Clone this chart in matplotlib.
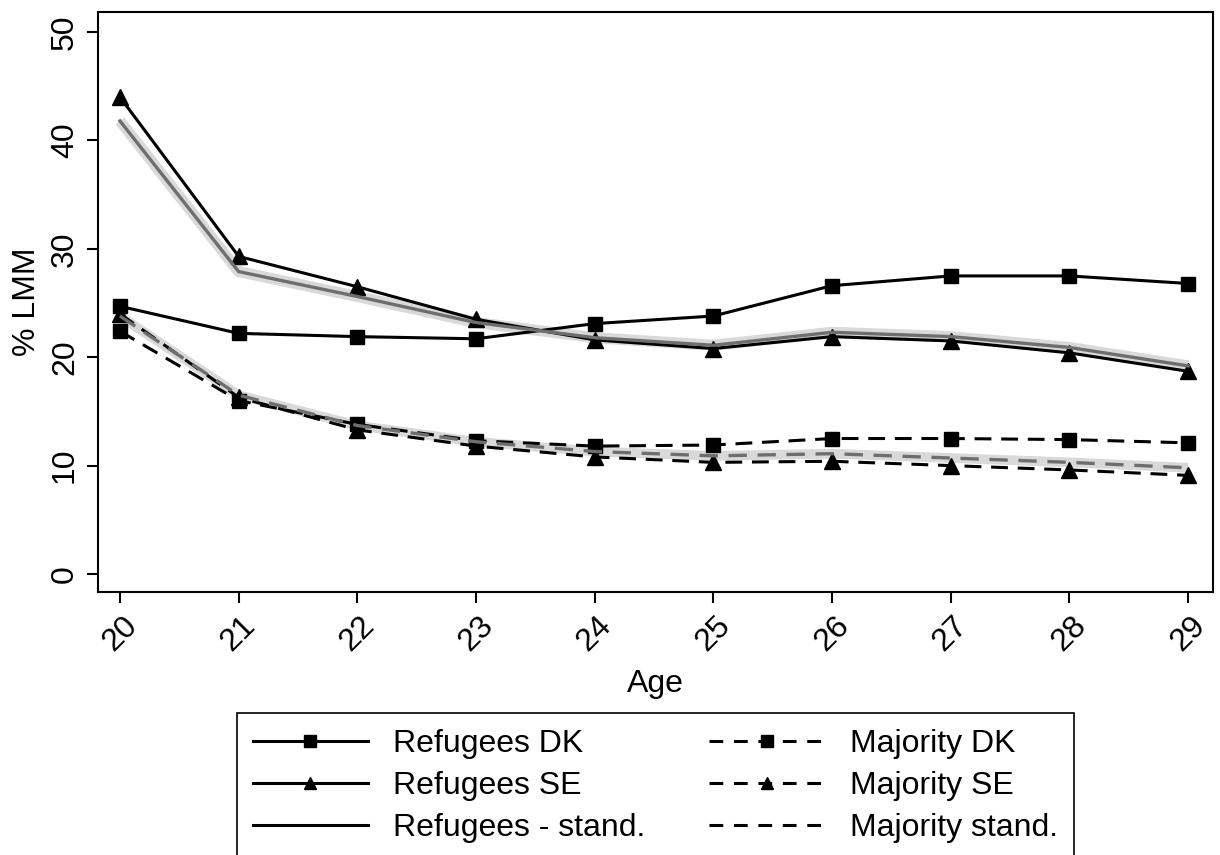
import numpy as np
import matplotlib.pyplot as plt
from matplotlib.lines import Line2D

plt.rcParams['font.family'] = ['Liberation Sans', 'DejaVu Sans']

ages = [20, 21, 22, 23, 24, 25, 26, 27, 28, 29]

ref_dk = [24.7, 22.2, 21.9, 21.7, 23.1, 23.8, 26.6, 27.5, 27.5, 26.8]
ref_se = [44.0, 29.3, 26.5, 23.5, 21.6, 20.8, 21.9, 21.5, 20.4, 18.7]
ref_stand = [41.8, 27.9, 25.6, 23.2, 21.8, 21.1, 22.3, 21.9, 20.9, 19.2]

maj_dk = [22.4, 16.0, 13.8, 12.3, 11.8, 11.9, 12.5, 12.5, 12.4, 12.1]
maj_se = [24.0, 16.3, 13.3, 11.8, 10.8, 10.3, 10.4, 10.0, 9.6, 9.1]
maj_stand = [23.8, 16.5, 13.7, 12.2, 11.3, 10.9, 11.1, 10.7, 10.3, 9.8]

y_ticks = [0, 10, 20, 30, 40, 50]

fig = plt.figure(figsize=(12.2, 8.55), dpi=100)
ax = fig.add_axes([0.0803, 0.3076, 0.914, 0.6784])

lw = 2.2
ms = 10
dash = (0, (5.5, 3.2))

# light band under the standardised lines
ax.plot(ages, ref_stand, color='#d9d9d9', lw=8, solid_capstyle='butt', zorder=1)
ax.plot(ages, maj_stand, color='#d9d9d9', lw=7, solid_capstyle='butt', zorder=1)

ax.plot(ages, ref_dk, color='black', lw=lw, marker='s', ms=ms, zorder=3)
ax.plot(ages, ref_se, color='black', lw=lw, marker='^', ms=ms + 1, zorder=3)
ax.plot(ages, maj_dk, color='black', lw=lw, ls=dash, marker='s', ms=ms, zorder=3)
ax.plot(ages, maj_se, color='black', lw=lw, ls=dash, marker='^', ms=ms + 1, zorder=3)

ax.plot(ages, ref_stand, color='#6e6e6e', lw=2.4, zorder=4)
ax.plot(ages, maj_stand, color='#6e6e6e', lw=2.4, ls=dash, zorder=4)

ax.set_xlim(19.815, 29.21)
ax.set_ylim(-1.66, 51.85)
ax.set_xticks(ages)
ax.set_yticks(y_ticks)
ax.tick_params(axis='both', direction='out', length=8, width=1.5, labelsize=23)
ax.tick_params(axis='x', labelrotation=45, pad=5)
ax.tick_params(axis='y', labelrotation=90, pad=5)
for lab in ax.get_yticklabels():
    lab.set_va('center')
for sp in ax.spines.values():
    sp.set_linewidth(1.5)

ax.set_xlabel('Age', fontsize=23, labelpad=9)
ax.set_ylabel('% LMM', fontsize=23, labelpad=6)

leg_dash = (0, (4.5, 3.5))
handles = [
    Line2D([], [], color='black', lw=lw, marker='s', ms=8),
    Line2D([], [], color='black', lw=lw, marker='^', ms=9),
    Line2D([], [], color='black', lw=lw),
    Line2D([], [], color='black', lw=lw, ls=leg_dash, marker='s', ms=8),
    Line2D([], [], color='black', lw=lw, ls=leg_dash, marker='^', ms=9),
    Line2D([], [], color='black', lw=lw, ls=leg_dash),
]
labels = ['Refugees DK', 'Refugees SE', 'Refugees - stand.',
          'Majority DK', 'Majority SE', 'Majority stand.']
leg = fig.legend(handles, labels, ncol=2, loc='upper center',
                 bbox_to_anchor=(0.537, 0.166), fontsize=23,
                 handlelength=3.6, columnspacing=2.0, labelspacing=0.38,
                 fancybox=False, edgecolor='black', framealpha=1,
                 borderpad=0.5, borderaxespad=0)
leg.get_frame().set_linewidth(1.2)

fig.savefig('out.png', dpi=100)
